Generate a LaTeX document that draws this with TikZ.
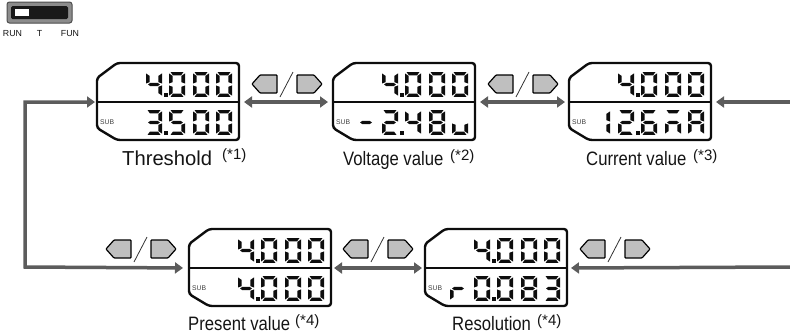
\documentclass[tikz,border=0pt]{standalone}
\usepackage{fontspec}
\usetikzlibrary{arrows.meta}
\setmainfont{Liberation Sans}
\newfontfamily\narrowfont[FakeStretch=0.86]{Liberation Sans}

\definecolor{flowgray}{gray}{0.36}
\definecolor{keygray}{gray}{0.75}
\definecolor{lcdink}{gray}{0.05}

\tikzset{
    flowline/.style={draw=flowgray, line width=3.5pt},
    flowright/.style={flowline, -{Triangle[length=8pt, width=11pt]}},
    flowboth/.style={flowline, {Triangle[length=8pt, width=11pt]}-{Triangle[length=8pt, width=11pt]}},
    keybtn/.style={draw=black, line width=1.2pt, fill=keygray, rounded corners=0.8pt},
    lcdframe/.style={draw=lcdink, line width=2.4pt, rounded corners=3pt},
    caption/.style={anchor=base west, inner sep=0pt, text=black!92, font=\narrowfont\fontsize{19.4}{21}\selectfont},
    note/.style={anchor=base west, inner sep=0pt, text=black!92, font=\fontsize{15}{17}\selectfont},
    swlabel/.style={anchor=base, inner sep=0pt, text=black!92, font=\fontsize{8.8}{10}\selectfont}
}

% lit segments of one digit, in a cell 16 wide and 26 high
\def\sega{(1.5,0)--(14.5,0)--(12,3.6)--(4,3.6)--cycle}
\def\segb{(16,1.5)--(16,12)--(12.4,10.6)--(12.4,4)--cycle}
\def\segc{(16,14)--(16,24.5)--(12.4,22)--(12.4,15.4)--cycle}
\def\segd{(1.5,26)--(14.5,26)--(12,22.4)--(4,22.4)--cycle}
\def\sege{(0,14)--(0,24.5)--(3.6,22)--(3.6,15.4)--cycle}
\def\segf{(0,1.5)--(0,12)--(3.6,10.6)--(3.6,4)--cycle}
\def\segg{(2,13)--(4.5,11.2)--(11.5,11.2)--(14,13)--(11.5,14.8)--(4.5,14.8)--cycle}
\newcommand\lit[1]{\foreach \s in {#1}{\fill[lcdink] \csname seg\s\endcsname;}}
\newcommand\deflcd[2]{\expandafter\def\csname glyph#1\endcsname{\lit{#2}}}
\deflcd{0}{a,b,c,d,e,f}
\deflcd{1}{b,c}
\deflcd{2}{a,b,g,e,d}
\deflcd{3}{a,b,g,c,d}
\deflcd{4}{f,g,b,c}
\deflcd{5}{a,f,g,c,d}
\deflcd{6}{a,f,g,e,c,d}
\deflcd{8}{a,b,c,d,e,f,g}
\deflcd{A}{a,b,c,e,f,g}
\deflcd{n}{a,g,e,c}
\deflcd{w}{e,c,d}
\deflcd{r}{e,g}
\deflcd{m}{g}

% one row of digits: x, y, list of cell/glyph
\newcommand\lcdrow[3]{
    \foreach \p/\ch in {#3}{
        \begin{scope}[shift={(#1+\p,#2)}, yscale=0.96]
            \csname glyph\ch\endcsname
        \end{scope}
    }
    \fill[lcdink] (#1+66.5,#2+20.5) rectangle (#1+71,#2+25);
}

% display: name, x, y, lower row
\newcommand\lcdbox[4]{
    \draw[lcdframe] (#2,#3+15) -- (#2+20,#3) -- (#2+142,#3) -- (#2+142,#3+77)
        -- (#2+20,#3+77) -- (#2,#3+65) -- cycle;
    \draw[draw=lcdink, line width=2.4pt] (#2,#3+39) -- (#2+142,#3+39);
    \coordinate (#1-l) at (#2,#3+39);
    \coordinate (#1-r) at (#2+142,#3+39);
    \node[anchor=west, inner sep=0pt, text=lcdink!80, font=\fontsize{6.8}{8}\selectfont] (#1-sub) at (#2+3,#3+59) {SUB};
    \lcdrow{#2}{#3+9}{49/4,72/0,96/0,119/0}
    \lcdrow{#2}{#3+47}{#4}
}

% the two keys and the slash: x, y of the arrow beneath
\newcommand\keypair[2]{
    \draw[keybtn] (#1,#2-18) -- (#1+8,#2-27) -- (#1+25,#2-27) -- (#1+25,#2-9) -- (#1+8,#2-9) -- cycle;
    \draw[line width=0.8pt, black!80] (#1+28,#2-5) -- (#1+41,#2-30);
    \draw[keybtn] (#1+45,#2-27) -- (#1+62,#2-27) -- (#1+70,#2-18) -- (#1+62,#2-9) -- (#1+45,#2-9) -- cycle;
}

\begin{document}
\begin{tikzpicture}[x=1pt, y=-1pt]
    \useasboundingbox (0,0) rectangle (790,335);

    % mode switch
    \draw[draw=black!70, fill=black!45, line width=1pt, rounded corners=2.5pt] (7,2) rectangle (72,23);
    \fill[black!90, rounded corners=1.5pt] (11,6) rectangle (68,19);
    \fill[white] (15,9) rectangle (29,16);
    \node[swlabel] (run) at (12.5,36.5) {RUN};
    \node[swlabel] (test) at (39.5,36.5) {T};
    \node[swlabel] (fun) at (70,36.5) {FUN};

    % upper row
    \lcdbox{thr}{97}{63}{49/3,72/5,96/0,119/0}
    \lcdbox{vol}{333}{63}{25/m,49/2,72/4,96/8,119/w}
    \lcdbox{cur}{569}{63}{25/1,49/2,72/6,96/n,119/A}

    % lower row
    \lcdbox{pre}{189}{229}{49/4,72/0,96/0,119/0}
    \lcdbox{res}{425}{229}{25/r,49/0,72/0,96/8,119/3}

    % keys
    \keypair{252}{102}
    \keypair{488}{102}
    \keypair{106}{267}
    \keypair{343}{267}
    \keypair{580}{267}

    % arrows
    \coordinate (loop-t) at (25,102);
    \coordinate (loop-b) at (25,267);
    \coordinate (in-t) at (790,102);
    \coordinate (in-b) at (790,267);
    \draw[flowboth, shorten <=2pt, shorten >=6pt, line join=miter] (thr-l) -- (loop-t) -- (loop-b) -- (pre-l);
    \draw[flowboth, shorten <=5pt, shorten >=5pt] (thr-r) -- (vol-l);
    \draw[flowboth, shorten <=5pt, shorten >=4pt] (vol-r) -- (cur-l);
    \draw[flowright, shorten >=5pt] (in-t) -- (cur-r);
    \draw[flowboth, shorten <=3pt, shorten >=3pt] (pre-r) -- (res-l);
    \draw[flowright, shorten >=4pt] (in-b) -- (res-r);

    % captions
    \node[caption, font=\fontsize{20.2}{22}\selectfont] (thr-name) at (122,165) {Threshold};
    \node[note] (thr-note) at (222,159.5) {(*1)};
    \node[caption] (vol-name) at (343,165) {Voltage value};
    \node[note] (vol-note) at (450,160) {(*2)};
    \node[caption] (cur-name) at (586,165) {Current value};
    \node[note] (cur-note) at (693,160) {(*3)};
    \node[caption] (pre-name) at (188,330) {Present value};
    \node[note] (pre-note) at (295,325) {(*4)};
    \node[caption] (res-name) at (452,330) {Resolution};
    \node[note] (res-note) at (537,325) {(*4)};
\end{tikzpicture}
\end{document}
